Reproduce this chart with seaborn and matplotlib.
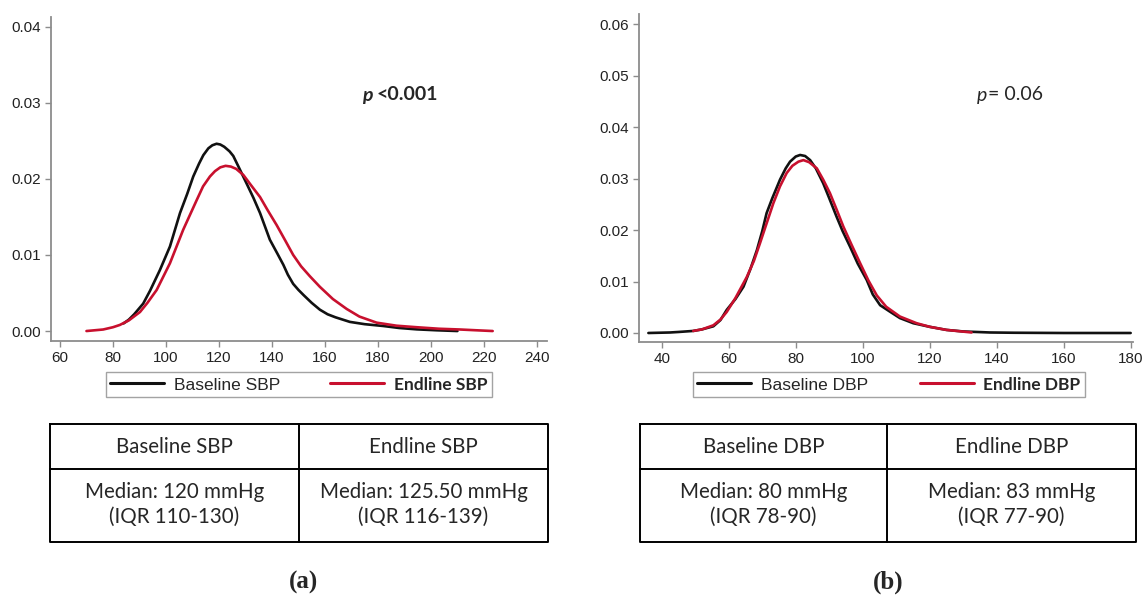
import matplotlib
matplotlib.use("Agg")
import matplotlib.pyplot as plt
from matplotlib.ticker import FormatStrFormatter
import pandas as pd
import seaborn as sns

# (a) systolic blood pressure, density curves
sbp_base_x = [84, 86, 88, 91.4, 94, 97.7, 101.5, 105.3, 108, 110.3, 112.5, 114.1, 116,
              117.5, 119.1, 120.5, 122, 124, 125.4, 127.5, 130.4, 133, 135.5, 139.2,
              142, 144.3, 146, 148, 150, 152, 155, 158.1, 161, 164, 169.4, 175, 182,
              188, 194.6, 202, 210]
sbp_base_d = [0.0010, 0.0015, 0.0022, 0.0036, 0.0053, 0.0080, 0.0111, 0.0155, 0.0180,
              0.0203, 0.0220, 0.0231, 0.0240, 0.0244, 0.0246, 0.0245, 0.0242, 0.0236,
              0.0230, 0.0215, 0.0194, 0.0175, 0.0155, 0.0120, 0.0102, 0.0087, 0.0074,
              0.0062, 0.0054, 0.0047, 0.0037, 0.0028, 0.0022, 0.0018, 0.0012, 0.0009,
              0.00066, 0.0004, 0.00022, 0.0001, 0.0]
sbp_end_x = [70, 76.3, 80, 82.6, 86, 90.2, 93, 96.5, 101.5, 106.5, 111.6, 114, 116.6,
             118.5, 120.5, 122.5, 124.5, 126.5, 129.2, 132, 135.5, 138.5, 141.8, 145,
             148, 151, 154.3, 158.1, 163, 168.2, 173, 179.5, 187, 194.6, 203, 211, 217,
             223.3]
sbp_end_d = [0.0, 0.0002, 0.0005, 0.0008, 0.0014, 0.0025, 0.0037, 0.0054, 0.0089, 0.0133,
             0.0172, 0.0190, 0.0203, 0.0210, 0.0215, 0.0217, 0.0216, 0.0213, 0.0205,
             0.0192, 0.0176, 0.0158, 0.0139, 0.0119, 0.0100, 0.0085, 0.0072, 0.0058,
             0.0042, 0.0029, 0.0019, 0.0011, 0.0007, 0.0005, 0.0003, 0.0002, 0.0001, 0.0]

# (b) diastolic blood pressure
dbp_base_x = [36, 42.5, 45, 49.4, 52, 55.4, 57.5, 59.4, 62, 64.4, 66.5, 68.4, 70, 71.3,
              73, 75.3, 77, 78.3, 80, 81.3, 82.8, 84.3, 86, 88.2, 90, 92.2, 94, 96.2,
              98.5, 101.2, 103, 105.2, 108, 111.1, 115.1, 120, 125, 130, 138, 145, 160,
              180]
dbp_base_d = [0.0, 0.0001, 0.0002, 0.0004, 0.0007, 0.0013, 0.0025, 0.0045, 0.0066, 0.0090,
              0.0125, 0.0161, 0.0198, 0.0233, 0.0262, 0.0298, 0.0320, 0.0333, 0.0343,
              0.0346, 0.0344, 0.0336, 0.0320, 0.0291, 0.0262, 0.0226, 0.0198, 0.0168,
              0.0135, 0.0103, 0.0075, 0.0054, 0.0042, 0.0029, 0.0019, 0.0012, 0.0006,
              0.0003, 0.0001, 0.00005, 0.0, 0.0]
dbp_end_x = [49.4, 52, 55.4, 57.5, 59.4, 62, 65.4, 67.5, 69.3, 71.3, 73.3, 75.3, 77.3, 79,
             80.8, 82.3, 84, 86.3, 88.2, 90.2, 92.2, 94.2, 96.7, 99.2, 101.7, 104.2, 107,
             111.1, 116.1, 120, 125, 132.5]
dbp_end_d = [0.0004, 0.0007, 0.0015, 0.0026, 0.0041, 0.0068, 0.0109, 0.0140, 0.0174,
             0.0213, 0.0252, 0.0285, 0.0311, 0.0325, 0.0333, 0.0336, 0.0332, 0.0320,
             0.0298, 0.0272, 0.0240, 0.0207, 0.0171, 0.0136, 0.0102, 0.0073, 0.0051,
             0.0032, 0.0019, 0.0012, 0.0006, 0.0001]

sbp_labels = ["Baseline SBP", "Endline SBP"]
dbp_labels = ["Baseline DBP", "Endline DBP"]
sbp_p = "<0.001"
dbp_p = "= 0.06"
sbp_median = ["Median: 120 mmHg", "Median: 125.50 mmHg"]
sbp_iqr = ["(IQR 110-130)", "(IQR 116-139)"]
dbp_median = ["Median: 80 mmHg", "Median: 83 mmHg"]
dbp_iqr = ["(IQR 78-90)", "(IQR 77-90)"]

sns.set_style("ticks")
plt.rcParams["font.family"] = ["Liberation Sans", "DejaVu Sans"]

black = "#111111"
red = "#C8102E"
grey = "#8c8c8c"
W, H = 1144, 599

fig = plt.figure(figsize=(W / 100, H / 100), dpi=100)


def px_axes(left, top, right, bottom):
    return fig.add_axes([left / W, 1 - bottom / H, (right - left) / W, (bottom - top) / H])


def make_frame(bx, bd, ex, ed, labels):
    a = pd.DataFrame({"bp": bx, "density": bd, "group": labels[0]})
    b = pd.DataFrame({"bp": ex, "density": ed, "group": labels[1]})
    return pd.concat([a, b], ignore_index=True)


def draw_panel(ax, df, labels, xlim, ylim, xticks, yticks, leg_box):
    sns.lineplot(data=df, x="bp", y="density", hue="group",
                 palette={labels[0]: black, labels[1]: red},
                 estimator=None, sort=False, lw=1.9, ax=ax)
    ax.set_xlim(xlim)
    ax.set_ylim(ylim)
    ax.set_xticks(xticks)
    ax.set_yticks(yticks)
    ax.yaxis.set_major_formatter(FormatStrFormatter("%.2f"))
    ax.set_xlabel("")
    ax.set_ylabel("")
    for s in ["top", "right"]:
        ax.spines[s].set_visible(False)
    for s in ["left", "bottom"]:
        ax.spines[s].set_color(grey)
        ax.spines[s].set_linewidth(1.3)
    ax.tick_params(direction="out", length=4, width=1, color=grey,
                   labelsize=11, labelcolor="#222222", pad=3)
    handles, _ = ax.get_legend_handles_labels()
    leg = ax.legend(handles, labels, loc="upper left", bbox_to_anchor=leg_box,
                    mode="expand", ncol=2, frameon=True, fancybox=False,
                    edgecolor=grey, fontsize=12.5, handlelength=3.1,
                    handletextpad=0.57, borderpad=0.26, borderaxespad=0,
                    columnspacing=0.5)
    leg.get_frame().set_linewidth(1.0)
    leg.get_texts()[1].set_fontweight("bold")
    leg.get_texts()[1].set_fontfamily("Lato")
    for line in leg.get_lines():
        line.set_linewidth(2.2)


ax1 = px_axes(50.7, 17, 547, 341)
draw_panel(ax1, make_frame(sbp_base_x, sbp_base_d, sbp_end_x, sbp_end_d, sbp_labels),
           sbp_labels, (56.5, 243.8), (-0.00131, 0.04125),
           range(60, 241, 20), [0, 0.01, 0.02, 0.03, 0.04],
           (0.111, -0.1857, 0.778, 0.09))

ax2 = px_axes(639, 14, 1133, 342)
draw_panel(ax2, make_frame(dbp_base_x, dbp_base_d, dbp_end_x, dbp_end_d, dbp_labels),
           dbp_labels, (33.2, 180.7), (-0.00175, 0.0620),
           range(40, 181, 20), [0, 0.01, 0.02, 0.03, 0.04, 0.05, 0.06],
           (0.109, -0.1815, 0.794, 0.09))

# overlay in pixel coordinates for p values, tables and panel letters
over = fig.add_axes([0, 0, 1, 1], zorder=5)
over.set_xlim(0, W)
over.set_ylim(H, 0)
over.axis("off")

over.text(362, 95, "p", fontsize=14, fontweight="bold", fontstyle="italic",
          family="Lato", ha="left", va="center")
over.text(377, 95, sbp_p, fontsize=14, fontweight="bold", family="Lato",
          ha="left", va="center")
over.text(977, 95, "p", fontsize=14, fontstyle="italic", family="Lato",
          ha="left", va="center")
over.text(988, 95, dbp_p, fontsize=14, family="Lato", ha="left", va="center")


def draw_table(x0, xm, x1, header, median, iqr):
    y0, ym, y1 = 424, 469, 542
    kw = dict(color="black", lw=1.4, solid_capstyle="projecting")
    over.plot([x0, x1, x1, x0, x0], [y0, y0, y1, y1, y0], **kw)
    over.plot([x0, x1], [ym, ym], **kw)
    over.plot([xm, xm], [y0, y1], **kw)
    for i, cx in enumerate([(x0 + xm) / 2, (xm + x1) / 2]):
        over.text(cx, 447, header[i], fontsize=14.8, family="Lato", ha="center", va="center")
        over.text(cx, 492, median[i], fontsize=14.8, family="Lato", ha="center", va="center")
        over.text(cx, 517, iqr[i], fontsize=14.8, family="Lato", ha="center", va="center")


draw_table(50, 299, 548, sbp_labels, sbp_median, sbp_iqr)
draw_table(640, 887, 1136, dbp_labels, dbp_median, dbp_iqr)

over.text(303, 582, "(a)", fontsize=18, fontweight="bold", family="Liberation Serif",
          ha="center", va="center")
over.text(888, 582, "(b)", fontsize=18, fontweight="bold", family="Liberation Serif",
          ha="center", va="center")

fig.savefig("out.png", dpi=100)
